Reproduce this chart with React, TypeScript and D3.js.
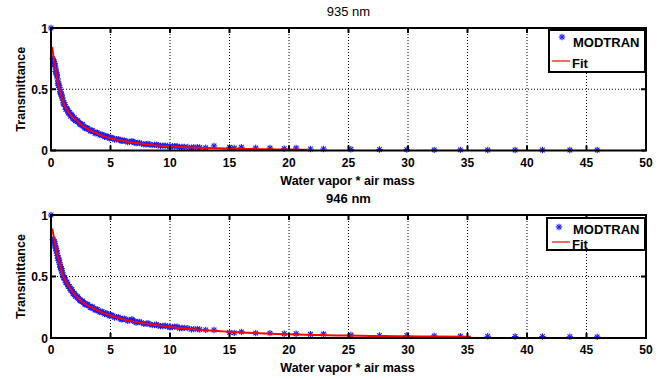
import React from "react";
import * as d3 from "d3";

// ---------- data ----------
const xTicks = [0, 5, 10, 15, 20, 25, 30, 35, 40, 45, 50];
const yTicks = [0, 0.5, 1];
const yTickLabels = ["0", "0.5", "1"];

const titles = ["935 nm", "946 nm"];
const xLabel = "Water vapor * air mass";
const yLabel = "Transmittance";
const legendLabels = ["MODTRAN", "Fit"];

// MODTRAN samples (water vapor * air mass)
const modX = [0, 0.15, 0.2, 0.25, 0.3, 0.35, 0.4, 0.45, 0.5, 0.55, 0.6, 0.65, 0.7, 0.75, 0.8, 0.85, 0.9, 0.95, 1.0, 1.1, 1.2, 1.3, 1.4, 1.5, 1.6, 1.7, 1.8, 1.9, 2.0, 2.1, 2.2, 2.3, 2.4, 2.5, 2.6, 2.7, 2.8, 2.9, 3.0, 3.2, 3.4, 3.6, 3.8, 4.0, 4.2, 4.4, 4.6, 4.8, 5.0, 5.2, 5.5, 5.8, 6.0, 6.3, 6.6, 6.8, 7.0, 7.3, 7.6, 8.0, 8.3, 8.7, 9.0, 9.4, 9.8, 10.2, 10.6, 11.0, 11.5, 12.0, 12.5, 13.0, 13.7, 15.0, 15.4, 16.0, 17.2, 18.4, 19.6, 20.6, 21.8, 22.9, 25.2, 27.6, 29.9, 32.2, 34.4, 36.7, 39.0, 41.3, 43.6, 45.9];
const modT935 = [1.0, 0.75, 0.73, 0.725, 0.71, 0.69, 0.665, 0.635, 0.61, 0.585, 0.56, 0.535, 0.515, 0.5, 0.48, 0.46, 0.445, 0.43, 0.41, 0.39, 0.36, 0.345, 0.33, 0.31, 0.3, 0.29, 0.275, 0.262, 0.255, 0.248, 0.24, 0.232, 0.222, 0.215, 0.21, 0.2, 0.192, 0.186, 0.18, 0.17, 0.162, 0.152, 0.143, 0.136, 0.13, 0.122, 0.116, 0.11, 0.104, 0.1, 0.092, 0.086, 0.081, 0.076, 0.07, 0.076, 0.065, 0.061, 0.056, 0.051, 0.049, 0.046, 0.043, 0.04, 0.037, 0.035, 0.036, 0.03, 0.028, 0.026, 0.024, 0.022, 0.037, 0.026, 0.02, 0.026, 0.02, 0.02, 0.015, 0.02, 0.012, 0.012, 0.01, 0.008, 0.007, 0.005, 0.005, 0.004, 0.004, 0.004, 0.004, 0.004];
const modT946 = [1.0, 0.8, 0.79, 0.78, 0.77, 0.75, 0.73, 0.71, 0.69, 0.67, 0.65, 0.63, 0.612, 0.6, 0.58, 0.562, 0.545, 0.53, 0.512, 0.49, 0.47, 0.45, 0.432, 0.42, 0.402, 0.39, 0.375, 0.362, 0.352, 0.342, 0.332, 0.322, 0.312, 0.305, 0.298, 0.29, 0.284, 0.276, 0.27, 0.26, 0.25, 0.24, 0.23, 0.22, 0.212, 0.205, 0.2, 0.19, 0.185, 0.18, 0.17, 0.16, 0.155, 0.15, 0.145, 0.152, 0.135, 0.13, 0.125, 0.117, 0.113, 0.106, 0.101, 0.098, 0.094, 0.09, 0.092, 0.081, 0.08, 0.072, 0.069, 0.066, 0.065, 0.046, 0.042, 0.05, 0.04, 0.04, 0.035, 0.035, 0.03, 0.032, 0.024, 0.02, 0.02, 0.017, 0.015, 0.014, 0.012, 0.012, 0.01, 0.009];

// additional MODTRAN samples in the dense part of the cloud
const modXExtra = [0.18, 0.28, 0.38, 0.48, 0.58, 0.68, 0.78, 0.88, 1.05, 1.15, 1.25, 1.35, 1.45, 1.55, 1.65, 1.75, 1.85, 1.95, 2.05, 2.25, 2.45, 2.65, 2.85, 3.1, 3.3, 3.5, 3.7, 3.9, 4.1, 4.3, 4.5, 4.7, 4.9, 5.1, 5.35, 5.65, 5.9, 6.15, 6.45, 6.9, 7.15, 7.45, 7.8, 8.15, 8.5, 8.85, 9.2, 9.6, 10.0, 10.4, 10.8, 11.2, 11.8, 12.3];
const modTExtra935 = [0.74, 0.7, 0.645, 0.62, 0.545, 0.53, 0.47, 0.455, 0.38, 0.375, 0.335, 0.34, 0.305, 0.31, 0.28, 0.288, 0.258, 0.268, 0.242, 0.243, 0.212, 0.212, 0.183, 0.182, 0.158, 0.162, 0.14, 0.146, 0.126, 0.13, 0.112, 0.115, 0.1, 0.103, 0.09, 0.093, 0.08, 0.083, 0.07, 0.072, 0.06, 0.062, 0.05, 0.053, 0.044, 0.047, 0.038, 0.04, 0.032, 0.035, 0.027, 0.03, 0.023, 0.026];
const modTExtra946 = [0.8, 0.785, 0.74, 0.71, 0.65, 0.635, 0.575, 0.565, 0.49, 0.49, 0.45, 0.455, 0.42, 0.42, 0.39, 0.395, 0.36, 0.365, 0.338, 0.335, 0.302, 0.302, 0.273, 0.272, 0.248, 0.252, 0.228, 0.232, 0.21, 0.214, 0.194, 0.199, 0.18, 0.186, 0.166, 0.17, 0.152, 0.157, 0.139, 0.142, 0.126, 0.131, 0.115, 0.12, 0.105, 0.11, 0.096, 0.1, 0.087, 0.091, 0.079, 0.082, 0.07, 0.073];

// Fitted curves
const fitX935 = [0.1, 0.2, 0.3, 0.4, 0.5, 0.6, 0.7, 0.8, 1.0, 1.2, 1.5, 1.8, 2.1, 2.5, 3, 3.5, 4, 4.5, 5, 6, 7, 8, 9, 10, 11, 12, 13, 14, 15, 16, 17, 18, 19, 20, 21, 21.5];
const fitT935 = [0.845, 0.77, 0.71, 0.65, 0.6, 0.55, 0.51, 0.475, 0.405, 0.355, 0.31, 0.272, 0.25, 0.215, 0.18, 0.155, 0.134, 0.115, 0.1, 0.08, 0.063, 0.05, 0.041, 0.034, 0.028, 0.024, 0.021, 0.018, 0.016, 0.014, 0.012, 0.01, 0.009, 0.008, 0.007, 0.0065];

const fitX946 = [0.1, 0.2, 0.3, 0.4, 0.5, 0.6, 0.8, 1.0, 1.2, 1.5, 1.8, 2.1, 2.5, 3, 3.5, 4, 4.5, 5, 6, 7, 8, 9, 10, 11, 12, 13, 14, 15, 16, 17, 18, 19, 20, 22, 24, 26, 28, 30, 32, 35.3];
const fitT946 = [0.89, 0.84, 0.79, 0.74, 0.69, 0.65, 0.58, 0.51, 0.47, 0.42, 0.375, 0.34, 0.305, 0.27, 0.245, 0.22, 0.2, 0.183, 0.155, 0.133, 0.117, 0.103, 0.09, 0.08, 0.071, 0.063, 0.057, 0.05, 0.045, 0.041, 0.037, 0.033, 0.03, 0.025, 0.021, 0.018, 0.016, 0.014, 0.012, 0.01];

// ---------- layout ----------
const W = 665;
const H = 380;
const FONT = "'Liberation Sans', Arial, Helvetica, sans-serif";

type Panel = {
  title: string;
  titleBold: boolean;
  top: number;
  bottom: number;
  mx: number[];
  my: number[];
  fx: number[];
  fy: number[];
  legend: { x0: number; x1: number; y0: number; y1: number; starY: number; starX: number; textY1: number; lineY: number; textY2: number };
};

const panels: Panel[] = [
  {
    title: titles[0],
    titleBold: false,
    top: 28,
    bottom: 150.5,
    mx: modX.concat(modXExtra),
    my: modT935.concat(modTExtra935),
    fx: fitX935,
    fy: fitT935,
    legend: { x0: 549, x1: 645, y0: 30, y1: 72, starX: 562, starY: 37, textY1: 46.5, lineY: 61, textY2: 67.5 },
  },
  {
    title: titles[1],
    titleBold: true,
    top: 215,
    bottom: 338,
    mx: modX.concat(modXExtra),
    my: modT946.concat(modTExtra946),
    fx: fitX946,
    fy: fitT946,
    legend: { x0: 547, x1: 645, y0: 218, y1: 250, starX: 559, starY: 227, textY1: 234, lineY: 242, textY2: 248.5 },
  },
];

const LEFT = 51;
const RIGHT = 646;

function Star({ cx, cy, r = 3.2 }: { cx: number; cy: number; r?: number }) {
  const d = r * 0.72;
  return (
    <g stroke="#1a1aff" strokeWidth={1.1} strokeLinecap="butt">
      <line x1={cx - r} y1={cy} x2={cx + r} y2={cy} />
      <line x1={cx} y1={cy - r} x2={cx} y2={cy + r} />
      <line x1={cx - d} y1={cy - d} x2={cx + d} y2={cy + d} />
      <line x1={cx - d} y1={cy + d} x2={cx + d} y2={cy - d} />
    </g>
  );
}

function PanelView({ p }: { p: Panel }) {
  const x = d3.scaleLinear().domain([0, 50]).range([LEFT, RIGHT]);
  const y = d3.scaleLinear().domain([0, 1]).range([p.bottom, p.top]);
  const line = d3
    .line<number>()
    .x((_, i) => x(p.fx[i]))
    .y((_, i) => y(p.fy[i]))
    .curve(d3.curveMonotoneX);
  const fitPath = line(p.fx) || "";
  const cx = (LEFT + RIGHT) / 2;
  const cyMid = (p.top + p.bottom) / 2;
  const L = p.legend;
  return (
    <g>
      <text
        x={cx}
        y={p.top - 12}
        textAnchor="middle"
        fontFamily={FONT}
        fontSize={13}
        fontWeight={p.titleBold ? "bold" : "normal"}
        fill="#000"
      >
        {p.title}
      </text>
      {/* grid */}
      {xTicks
        .filter((t) => t > 0 && t < 50)
        .map((t) => (
          <line key={"gx" + t} x1={x(t)} x2={x(t)} y1={p.top} y2={p.bottom} stroke="#000" strokeWidth={1} strokeDasharray="1,2" />
        ))}
      {yTicks
        .filter((t) => t > 0 && t < 1)
        .map((t) => (
          <line key={"gy" + t} x1={LEFT} x2={RIGHT} y1={y(t)} y2={y(t)} stroke="#000" strokeWidth={1} strokeDasharray="1,2" />
        ))}
      {/* markers */}
      {p.mx.map((v, i) => (
        <Star key={"m" + i} cx={x(v)} cy={y(p.my[i])} />
      ))}
      {/* fit line */}
      <path d={fitPath} fill="none" stroke="#ff0000" strokeWidth={2} />
      {/* ticks */}
      {xTicks.map((t) => (
        <g key={"tx" + t}>
          <line x1={x(t)} x2={x(t)} y1={p.bottom} y2={p.bottom - 5} stroke="#000" strokeWidth={2} />
          <line x1={x(t)} x2={x(t)} y1={p.top} y2={p.top + 5} stroke="#000" strokeWidth={2} />
          <text x={x(t)} y={p.bottom + 16} textAnchor="middle" fontFamily={FONT} fontSize={12} fontWeight="bold" fill="#000">
            {String(t)}
          </text>
        </g>
      ))}
      {yTicks.map((t, i) => (
        <g key={"ty" + t}>
          <line x1={LEFT} x2={LEFT + 5} y1={y(t)} y2={y(t)} stroke="#000" strokeWidth={2} />
          <line x1={RIGHT} x2={RIGHT - 5} y1={y(t)} y2={y(t)} stroke="#000" strokeWidth={2} />
          <text x={LEFT - 3} y={y(t) + 4.5} textAnchor="end" fontFamily={FONT} fontSize={12} fontWeight="bold" fill="#000">
            {yTickLabels[i]}
          </text>
        </g>
      ))}
      {/* box */}
      <rect x={LEFT} y={p.top} width={RIGHT - LEFT} height={p.bottom - p.top} fill="none" stroke="#000" strokeWidth={2} />
      {/* axis labels */}
      <text x={cx - 1} y={p.bottom + 34} textAnchor="middle" fontFamily={FONT} fontSize={12.5} fontWeight="bold" fill="#000">
        {xLabel}
      </text>
      <text
        transform={`translate(25,${cyMid}) rotate(-90)`}
        textAnchor="middle"
        fontFamily={FONT}
        fontSize={12.5}
        fontWeight="bold"
        fill="#000"
      >
        {yLabel}
      </text>
      {/* legend */}
      <rect x={L.x0} y={L.y0} width={L.x1 - L.x0} height={L.y1 - L.y0} fill="#fff" stroke="#000" strokeWidth={2} />
      <Star cx={L.starX} cy={L.starY} />
      <text x={573} y={L.textY1} fontFamily={FONT} fontSize={13} fontWeight="bold" fill="#000">
        {legendLabels[0]}
      </text>
      <line x1={552} x2={570} y1={L.lineY} y2={L.lineY} stroke="#ff0000" strokeWidth={1.2} />
      <text x={572} y={L.textY2} fontFamily={FONT} fontSize={13} fontWeight="bold" fill="#000">
        {legendLabels[1]}
      </text>
    </g>
  );
}

export default function App() {
  return (
    <svg
      width={W}
      height={H}
      viewBox={`0 0 ${W} ${H}`}
      style={{ position: "absolute", left: 0, top: 0, background: "#fff" }}
    >
      <rect x={0} y={0} width={W} height={H} fill="#fff" />
      {panels.map((p, i) => (
        <PanelView key={i} p={p} />
      ))}
    </svg>
  );
}
